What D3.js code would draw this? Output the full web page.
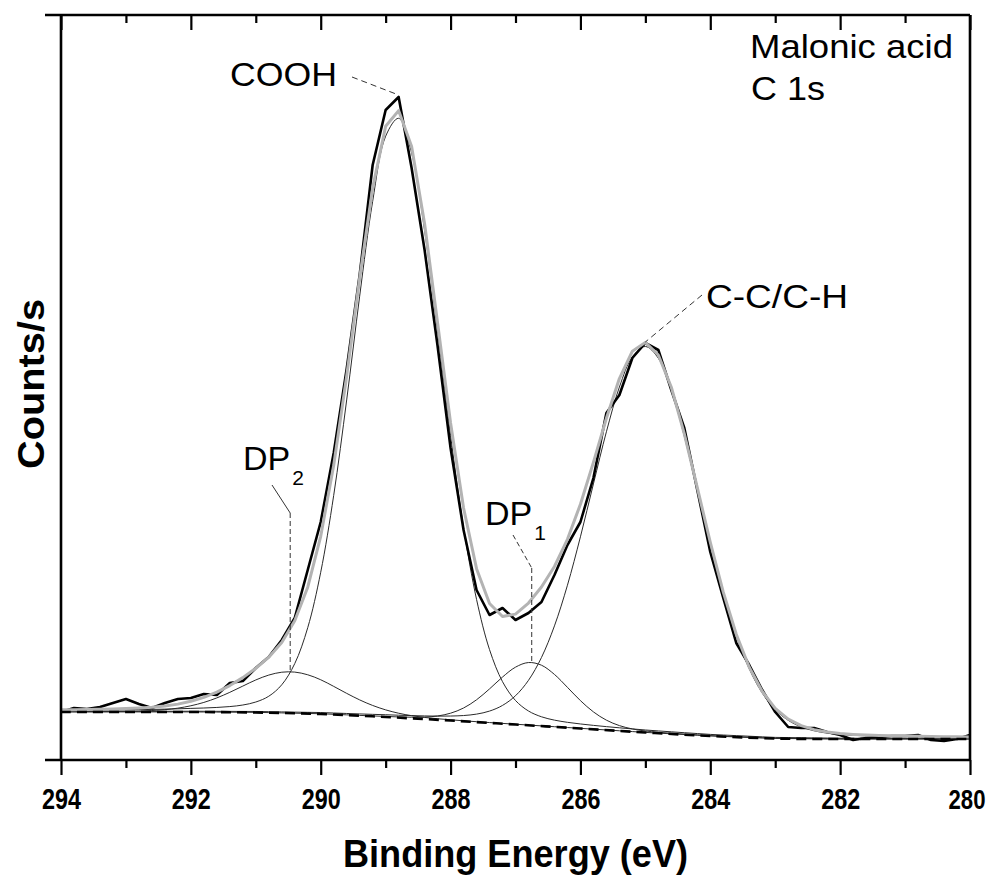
<!DOCTYPE html>
<html>
<head>
<meta charset="utf-8">
<script src="https://cdn.jsdelivr.net/npm/d3@7"></script>
<style>
    body { margin: 0; background: #fff; }
    svg { display: block; font-family: "Liberation Sans", Arial, sans-serif; }
</style>
</head>
<body>
<div id="chart"></div>
<script>
/**** DATA ****/

// measured C 1s spectrum, binding energy (eV), one point every 0.2 eV
var energies = [
    294.0, 293.8, 293.6, 293.4, 293.2, 293.0, 292.8, 292.6, 292.4, 292.2,
    292.0, 291.8, 291.6, 291.4, 291.2, 291.0, 290.8, 290.6, 290.4, 290.2,
    290.0, 289.8, 289.6, 289.4, 289.2, 289.0, 288.8, 288.6, 288.4, 288.2,
    288.0, 287.8, 287.6, 287.4, 287.2, 287.0, 286.8, 286.6, 286.4, 286.2,
    286.0, 285.8, 285.6, 285.4, 285.2, 285.0, 284.8, 284.6, 284.4, 284.2,
    284.0, 283.8, 283.6, 283.4, 283.2, 283.0, 282.8, 282.6, 282.4, 282.2,
    282.0, 281.8, 281.6, 281.4, 281.2, 281.0, 280.8, 280.6, 280.4, 280.2,
    280.0
];
// counts/s (arbitrary scale, the chart has no y tick labels)
var counts = [
    480, 520, 510, 530, 570, 610, 560, 520, 570, 610,
    620, 660, 650, 770, 790, 920, 1030, 1200, 1420, 1900,
    2380, 3070, 3910, 4850, 5950, 6500, 6630, 5920, 5100, 4140,
    3120, 2300, 1700, 1450, 1520, 1400, 1470, 1580, 1850, 2150,
    2380, 2820, 3470, 3650, 4020, 4170, 4100, 3700, 3320, 2700,
    2080, 1620, 1170, 950, 700, 480, 330, 320, 320, 280,
    250, 200, 220, 230, 240, 240, 250, 200, 190, 210,
    250
];

// Shirley-type background
var bgEnergies = [294, 293, 292, 291, 290, 289, 288, 287, 286, 285, 284, 283, 282, 281, 280];
var bgCounts = [480, 480, 480, 475, 460, 430, 395, 355, 315, 275, 240, 215, 210, 210, 210];

// fitted components (height above background)
var peakNames = ["DP2", "COOH", "DP1", "C-C/C-H"];
var peakCenters = [290.47, 288.83, 286.75, 285.0];
var peakFwhm = [1.81, 1.60, 1.38, 1.99];
var peakHeights = [415, 6000, 630, 3860];
// gaussian/lorentzian mix of the line shape
var LORENTZ_MIX = 0.1;

var majorTicks = [294, 292, 290, 288, 286, 284, 282, 280];
var minorTicks = [293, 291, 289, 287, 285, 283, 281];

var xTitle = "Binding Energy (eV)";
var yTitle = "Counts/s";
var sampleTitle = ["Malonic acid", "C 1s"];

/**** SETUP ****/

var width = 997;
var height = 878;
var margin = {top: 15, right: 27, bottom: 118, left: 61};

var svg = d3.select("#chart")
    .append("svg")
    .attr("width", width)
    .attr("height", height);

var x = d3.scaleLinear()
    .domain([294, 280])
    .range([margin.left, width - margin.right]);
var y = d3.scaleLinear()
    .domain([0, 7450])
    .range([height - margin.bottom, margin.top]);

// piecewise background through the read points
var background = d3.scaleLinear().domain(bgEnergies).range(bgCounts);

function peakValue(e, i) {
    var hw = peakFwhm[i] / 2;
    var d = (e - peakCenters[i]) / hw;
    var g = Math.exp(-Math.LN2 * d * d);
    var l = 1 / (1 + d * d);
    return peakHeights[i] * ((1 - LORENTZ_MIX) * g + LORENTZ_MIX * l);
}

var plotLeft = x.range()[0], plotRight = x.range()[1];
var plotTop = y.range()[1], plotBottom = y.range()[0];

/**** CURVES ****/

var smooth = d3.line()
    .x(function(d) { return x(d[0]); })
    .y(function(d) { return y(d[1]); })
    .curve(d3.curveCatmullRom.alpha(0.5));
var straight = d3.line()
    .x(function(d) { return x(d[0]); })
    .y(function(d) { return y(d[1]); });

var curves = svg.append("g").attr("class", "curves");

// individual components sitting on the background
peakNames.forEach(function(name, i) {
    var pts = energies.map(function(e) {
        return [e, background(e) + peakValue(e, i)];
    });
    curves.append("path")
        .attr("d", smooth(pts))
        .attr("fill", "none")
        .attr("stroke", "#2a2a2a")
        .attr("stroke-width", 1);
});

// measured data
curves.append("path")
    .attr("d", straight(energies.map(function(e, i) { return [e, counts[i]]; })))
    .attr("fill", "none")
    .attr("stroke", "#000")
    .attr("stroke-width", 2.6)
    .attr("stroke-linejoin", "round");

// fit envelope
var envelope = energies.map(function(e) {
    var sum = background(e);
    peakNames.forEach(function(n, i) { sum += peakValue(e, i); });
    return [e, sum];
});
curves.append("path")
    .attr("d", straight(envelope))
    .attr("fill", "none")
    .attr("stroke", "#b3b3b3")
    .attr("stroke-width", 3)
    .attr("stroke-linejoin", "round");

// background
curves.append("path")
    .attr("d", smooth(bgEnergies.map(function(e, i) { return [e, bgCounts[i]]; })))
    .attr("fill", "none")
    .attr("stroke", "#000")
    .attr("stroke-width", 2.6)
    .attr("stroke-dasharray", "10,6");

/**** AXES ****/

var bottomMajor = d3.axisBottom(x).tickValues(majorTicks).tickSize(15).tickFormat(d3.format("d"));
var bottomMinor = d3.axisBottom(x).tickValues(minorTicks).tickSize(8).tickFormat("");
var topMajor = d3.axisTop(x).tickValues(majorTicks).tickSize(-15).tickFormat("");
var topMinor = d3.axisTop(x).tickValues(minorTicks).tickSize(-8).tickFormat("");

function styleAxis(g) {
    g.select(".domain").remove();
    g.selectAll(".tick line").attr("stroke", "#000").attr("stroke-width", 2.2);
}

svg.append("g").attr("transform", "translate(0," + plotBottom + ")").call(bottomMinor).call(styleAxis);
var xAxis = svg.append("g")
    .attr("transform", "translate(0," + plotBottom + ")")
    .call(bottomMajor)
    .call(styleAxis);
xAxis.selectAll(".tick text")
    .attr("y", 49)
    .attr("dy", null)
    .attr("fill", "#000")
    .attr("font-family", "'Liberation Sans', Arial, sans-serif")
    .attr("font-weight", "bold")
    .attr("font-size", 29)
    .attr("textLength", 39)
    .attr("lengthAdjust", "spacingAndGlyphs");
// the last label sits on the page edge, keep it a few pixels inside
xAxis.selectAll(".tick text")
    .filter(function(d) { return d === x.domain()[1]; })
    .attr("text-anchor", "end")
    .attr("x", 15)
    .attr("font-size", 27)
    .attr("textLength", 37);
svg.append("g").attr("transform", "translate(0," + plotTop + ")").call(topMinor).call(styleAxis);
svg.append("g").attr("transform", "translate(0," + plotTop + ")").call(topMajor).call(styleAxis);

// frame, the horizontal lines run a little past the left axis
var frame = svg.append("g").attr("stroke", "#000").attr("stroke-width", 2.6);
frame.append("line").attr("x1", plotLeft - 16).attr("x2", plotRight).attr("y1", plotTop).attr("y2", plotTop);
frame.append("line").attr("x1", plotLeft - 16).attr("x2", plotRight + 1).attr("y1", plotBottom).attr("y2", plotBottom);
frame.append("line").attr("x1", plotLeft).attr("x2", plotLeft).attr("y1", plotTop).attr("y2", plotBottom);
frame.append("line").attr("x1", plotRight).attr("x2", plotRight).attr("y1", plotTop).attr("y2", plotBottom);

svg.append("text")
    .attr("x", (plotLeft + plotRight) / 2)
    .attr("y", 867)
    .attr("text-anchor", "middle")
    .attr("font-weight", "bold")
    .attr("font-size", 38)
    .attr("textLength", 345)
    .attr("lengthAdjust", "spacingAndGlyphs")
    .text(xTitle);

svg.append("text")
    .attr("transform", "translate(44,384) rotate(-90)")
    .attr("text-anchor", "middle")
    .attr("font-weight", "bold")
    .attr("font-size", 37)
    .attr("textLength", 170)
    .attr("lengthAdjust", "spacingAndGlyphs")
    .text(yTitle);

/**** ANNOTATIONS ****/

var notes = svg.append("g").attr("fill", "#000");

notes.append("text").attr("x", 750).attr("y", 58).attr("font-size", 33)
    .attr("textLength", 203).attr("lengthAdjust", "spacingAndGlyphs").text(sampleTitle[0]);
notes.append("text").attr("x", 751).attr("y", 100).attr("font-size", 33)
    .attr("textLength", 74).attr("lengthAdjust", "spacingAndGlyphs").text(sampleTitle[1]);

function peakTop(i) {
    var e = peakCenters[i];
    return [x(e), y(background(e) + peakValue(e, i))];
}

var leader = notes.append("g")
    .attr("fill", "none")
    .attr("stroke", "#333")
    .attr("stroke-width", 1);

// COOH, pointing at the measured maximum
var cooIdx = d3.maxIndex(counts);
notes.append("text").attr("x", 230).attr("y", 86).attr("font-size", 34)
    .attr("textLength", 107).attr("lengthAdjust", "spacingAndGlyphs").text(peakNames[1]);
leader.append("line")
    .attr("x1", 352).attr("y1", 77)
    .attr("x2", x(energies[cooIdx])).attr("y2", y(counts[cooIdx]) - 2)
    .attr("stroke-dasharray", "6,4");

// C-C/C-H
var ccIdx = energies.indexOf(peakCenters[3]);
notes.append("text").attr("x", 706).attr("y", 308).attr("font-size", 34)
    .attr("textLength", 142).attr("lengthAdjust", "spacingAndGlyphs").text(peakNames[3]);
leader.append("line")
    .attr("x1", 702).attr("y1", 295)
    .attr("x2", x(energies[ccIdx])).attr("y2", y(counts[ccIdx]) - 1)
    .attr("stroke-dasharray", "6,4");

// DP2
var dp2 = peakTop(0);
var dp2Text = notes.append("text").attr("x", 243).attr("y", 470).attr("font-size", 34);
dp2Text.append("tspan").text("DP");
dp2Text.append("tspan").attr("dx", 2).attr("dy", 15).attr("font-size", 21).text("2");
leader.append("line").attr("x1", 272).attr("y1", 485).attr("x2", dp2[0]).attr("y2", 513);
leader.append("line")
    .attr("x1", dp2[0]).attr("y1", 513)
    .attr("x2", dp2[0]).attr("y2", dp2[1])
    .attr("stroke-dasharray", "5,3");

// DP1
var dp1 = peakTop(2);
var dp1Text = notes.append("text").attr("x", 485).attr("y", 525).attr("font-size", 34);
dp1Text.append("tspan").text("DP");
dp1Text.append("tspan").attr("dx", 2).attr("dy", 15).attr("font-size", 21).text("1");
leader.append("line")
    .attr("x1", 513).attr("y1", 535).attr("x2", dp1[0]).attr("y2", 568)
    .attr("stroke-dasharray", "5,3");
leader.append("line")
    .attr("x1", dp1[0]).attr("y1", 568)
    .attr("x2", dp1[0]).attr("y2", dp1[1])
    .attr("stroke-dasharray", "5,3");
</script>
</body>
</html>
